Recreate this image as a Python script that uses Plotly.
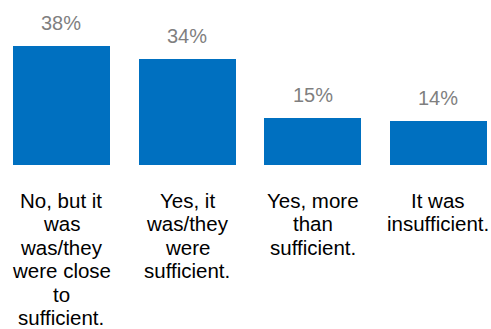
import plotly.graph_objects as go

# Survey answers and their share of respondents
categories = [
    "No, but it<br>was<br>was/they<br>were close<br>to<br>sufficient.",
    "Yes, it<br>was/they<br>were<br>sufficient.",
    "Yes, more<br>than<br>sufficient.",
    "It was<br>insufficient.",
]
values = [38, 34, 15, 14]
value_labels = [f"{v}%" for v in values]

BAR_COLOR = "#0070C0"
FONT = "Liberation Sans, Arial, sans-serif"
LINE_STEP = 23.5  # pixel spacing between wrapped label lines

x_pos = list(range(len(categories)))

fig = go.Figure(
    go.Bar(
        x=x_pos,
        y=values,
        width=0.772,
        marker=dict(color=BAR_COLOR, line=dict(width=0)),
        hoverinfo="skip",
    )
)

annotations = []
# percentage labels above each bar
for xi, v, lab in zip(x_pos, values, value_labels):
    annotations.append(dict(
        x=xi, y=v, xref="x", yref="y", text=lab, showarrow=False,
        yanchor="bottom", yshift=10,
        font=dict(family=FONT, size=20, color="#7F7F7F"),
    ))

# category labels below the baseline, one annotation per wrapped line
for xi, cat in zip(x_pos, categories):
    for i, line in enumerate(cat.split("<br>")):
        annotations.append(dict(
            x=xi, y=0, xref="x", yref="paper", text=line, showarrow=False,
            yanchor="middle", yshift=-(35 + LINE_STEP * i),
            font=dict(family=FONT, size=20.5, color="#000000"),
        ))

fig.update_layout(
    width=491, height=329,
    margin=dict(l=0, r=0, t=0, b=164, pad=0),
    paper_bgcolor="white", plot_bgcolor="white",
    showlegend=False,
    bargap=0,
    xaxis=dict(range=[-0.489, 3.418], visible=False, fixedrange=True),
    yaxis=dict(range=[0, 52.7], visible=False, fixedrange=True),
    annotations=annotations,
)

fig.write_html("out.html", config={"displayModeBar": False})
